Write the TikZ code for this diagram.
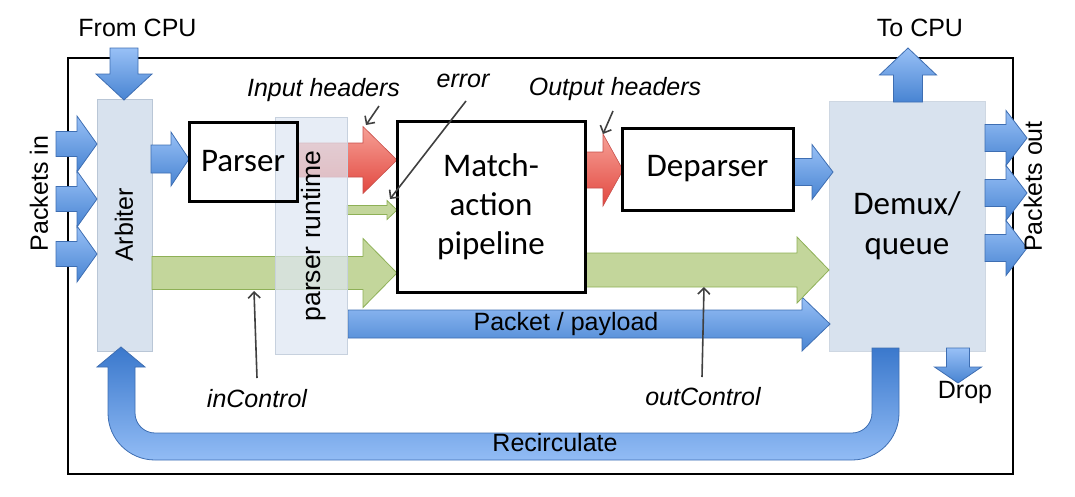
\documentclass[tikz,border=0pt]{standalone}
\usepackage{fontspec}
\setmainfont{Liberation Sans}
\newfontfamily\calfont{Carlito}
\usetikzlibrary{arrows.meta}
\definecolor{bluetop}{RGB}{152,192,246}
\definecolor{bluebot}{RGB}{72,132,210}
\definecolor{blueline}{RGB}{62,110,178}
\definecolor{recdark}{RGB}{58,120,204}
\definecolor{reclight}{RGB}{146,188,245}
\definecolor{greenfill}{RGB}{195,214,155}
\definecolor{greenline}{RGB}{142,176,86}
\definecolor{redtop}{RGB}{246,160,150}
\definecolor{redbot}{RGB}{226,72,64}
\definecolor{redline}{RGB}{200,80,76}
\definecolor{panelfill}{RGB}{216,226,238}
\definecolor{panelline}{RGB}{185,198,214}
\definecolor{rtfill}{RGB}{222,230,242}
\definecolor{pointer}{RGB}{64,64,64}
\newcommand{\rarr}[7]{\path[#1] (#2,{#5-#6}) -- (#3,{#5-#6}) -- (#3,{#5-#7}) -- (#4,#5) -- (#3,{#5+#7}) -- (#3,{#5+#6}) -- (#2,{#5+#6}) -- cycle;}
\newcommand{\varr}[7]{\path[#1] ({#5-#6},#2) -- ({#5-#6},#3) -- ({#5-#7},#3) -- (#5,#4) -- ({#5+#7},#3) -- ({#5+#6},#3) -- ({#5+#6},#2) -- cycle;}
\tikzset{
  bluearr/.style={draw=blueline, line width=0.8pt, top color=bluetop, bottom color=bluebot},
  greenarr/.style={draw=greenline, line width=0.8pt, fill=greenfill},
  redarr/.style={draw=redline, line width=0.6pt, top color=redtop, bottom color=redbot},
  panel/.style={draw=panelline, line width=0.8pt, fill=panelfill, inner sep=0pt},
  blk/.style={draw=black, line width=3pt, inner sep=0pt, font=\calfont\fontsize{33}{39}\selectfont, align=center},
  lbl/.style={font=\fontsize{25}{30}\selectfont, inner sep=0pt},
  ilbl/.style={font=\fontsize{25}{30}\selectfont\itshape, inner sep=0pt},
  ptr/.style={draw=pointer, line width=1.6pt, -{Straight Barb[length=6pt,width=12pt]}}
}
\begin{document}
\begin{tikzpicture}[x=1pt,y=-1pt]
\useasboundingbox (0,0) rectangle (1075,496);
% outer frame
\node[draw=black, line width=2.5pt, minimum width=945pt, minimum height=416pt, inner sep=0pt] (frame) at (540.5,266) {};
% arbiter and demux panels
\node[panel, minimum width=55pt, minimum height=252pt] (arbiter) at (124.5,225) {};
\node[panel, draw=panelline!70, minimum width=156pt, minimum height=250pt] (demux) at (907,226) {};
% block arrows
\varr{bluearr}{48}{74}{100}{124}{14}{28}
\rarr{bluearr}{56}{77}{97}{144}{12.5}{28}
\rarr{bluearr}{56}{77}{97}{199}{12.5}{28}
\rarr{bluearr}{56}{77}{97}{254}{12.5}{28}
\rarr{bluearr}{151}{171}{189}{159}{14}{27}
\rarr{greenarr}{152}{363}{397}{273}{16.5}{34.5}
\rarr{redarr}{297}{363}{397}{160}{17}{33.5}
\rarr{greenarr}{347}{387}{397}{210}{4.5}{9.5}
\rarr{bluearr}{348}{802}{830}{324}{14}{27}
\rarr{redarr}{585}{603}{623}{170}{18}{36}
\rarr{greenarr}{585}{797}{829}{270}{17}{33}
\rarr{bluearr}{793}{812}{833}{172}{13.5}{27.5}
\varr{bluearr}{102}{75}{48}{908}{14.5}{28.5}
\rarr{bluearr}{985}{1006}{1027}{138}{13.5}{27.5}
\rarr{bluearr}{985}{1006}{1027}{193}{13.5}{27.5}
\rarr{bluearr}{985}{1006}{1027}{248}{13.5}{27.5}
\varr{bluearr}{348}{367}{383}{958}{11.5}{23.5}
% recirculate
\path[draw=blueline, line width=0.8pt, top color=recdark, bottom color=reclight]
  (872,348) -- (872,413) .. controls (872,424) and (863,433) .. (852,433) -- (155,433)
  .. controls (144,433) and (135,424) .. (135,413) -- (135,367) -- (145,367) -- (121,347)
  -- (97,367) -- (108,367) -- (108,413) .. controls (108,439) and (129,460) .. (155,460)
  -- (852,460) .. controls (878,460) and (899,439) .. (899,413) -- (899,348) -- cycle;
% parser runtime (translucent)
\node[draw=panelline!80, line width=0.6pt, fill=rtfill, fill opacity=0.72, minimum width=72pt, minimum height=237pt, inner sep=0pt] (runtime) at (311,235.5) {};
% blocks
\node[blk, minimum width=108pt, minimum height=79pt] (parser) at (243,161.5) {Parser};
\node[blk, fill=white, minimum width=188pt, minimum height=171pt] (match) at (491,206.5) {Match-\\action\\pipeline};
\node[blk, fill=white, minimum width=171pt, minimum height=82pt] (deparser) at (707.5,169) {Deparser};
\node[font=\calfont\fontsize{33}{40}\selectfont, align=center, inner sep=0pt] (demuxtxt) at (907,226) {Demux/\\queue};
% rotated texts
\node[font=\fontsize{25}{30}\selectfont, rotate=90, inner sep=0pt] (arbtxt) at (124,225) {Arbiter};
\node[font=\fontsize{26.5}{32}\selectfont, rotate=90, inner sep=0pt] (rttxt) at (314,236) {parser runtime};
\node[lbl, rotate=90] (pin) at (39,193.5) {Packets in};
\node[lbl, rotate=90] (pout) at (1033,186.5) {Packets out};
% plain labels
\node[lbl] (fromcpu) at (137.5,28) {From CPU};
\node[lbl] (tocpu) at (920,28) {To CPU};
\node[lbl] (payload) at (566,324) {Packet / payload};
\node[lbl] (recirc) at (555,443) {Recirculate};
\node[lbl] (drop) at (965,392) {Drop};
% italic labels and pointers
\node[ilbl] (inhdr) at (323.5,90) {Input headers};
\node[ilbl] (err) at (463,81) {error};
\node[ilbl] (outhdr) at (615,89) {Output headers};
\node[ilbl] (inctl) at (257,399) {inControl};
\node[ilbl] (outctl) at (703,397) {outControl};
\coordinate (inhdrS) at (379,106); \coordinate (inhdrT) at (366,125);
\coordinate (errS) at (466,101);   \coordinate (errT) at (390,199);
\coordinate (outhdrS) at (613,111); \coordinate (outhdrT) at (603,134);
\coordinate (inctlS) at (257,378); \coordinate (inctlT) at (254,291);
\coordinate (outctlS) at (702,377); \coordinate (outctlT) at (704,287);
\draw[ptr] (inhdrS) -- (inhdrT);
\draw[ptr] (errS) -- (errT);
\draw[ptr] (outhdrS) -- (outhdrT);
\draw[ptr] (inctlS) -- (inctlT);
\draw[ptr] (outctlS) -- (outctlT);
\end{tikzpicture}
\end{document}
